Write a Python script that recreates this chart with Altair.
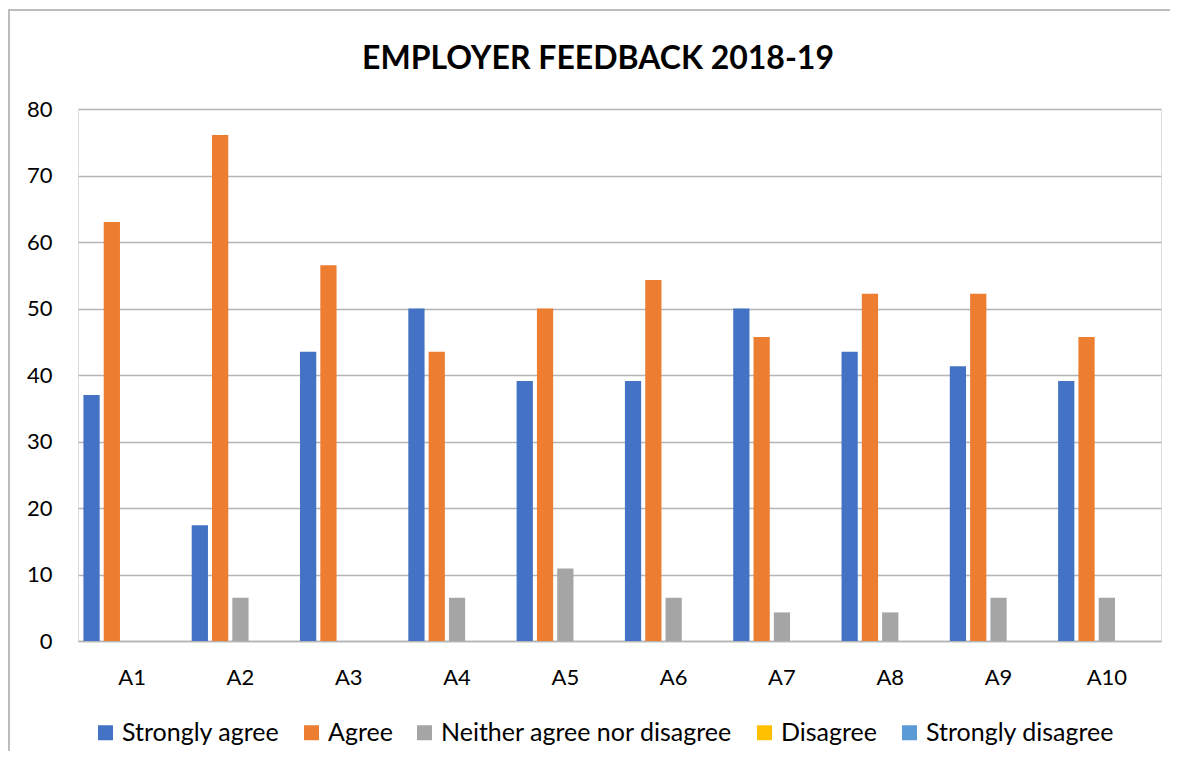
import altair as alt
import pandas as pd

categories = ["A1", "A2", "A3", "A4", "A5", "A6", "A7", "A8", "A9", "A10"]
series_names = ["Strongly agree", "Agree", "Neither agree nor disagree", "Disagree", "Strongly disagree"]
series_colors = ["#4472C4", "#ED7D31", "#A5A5A5", "#FFC000", "#5B9BD5"]

strongly_agree = [37.0, 17.4, 43.5, 50.0, 39.1, 39.1, 50.0, 43.5, 41.3, 39.1]
agree = [63.0, 76.1, 56.5, 43.5, 50.0, 54.3, 45.7, 52.2, 52.2, 45.7]
neither = [0, 6.5, 0, 6.5, 10.9, 6.5, 4.3, 4.3, 6.5, 6.5]
disagree = [0, 0, 0, 0, 0, 0, 0, 0, 0, 0]
strongly_disagree = [0, 0, 0, 0, 0, 0, 0, 0, 0, 0]

y_ticks = [0, 10, 20, 30, 40, 50, 60, 70, 80]
title_text = "EMPLOYER FEEDBACK 2018-19"

series_values = [strongly_agree, agree, neither, disagree, strongly_disagree]
rows = []
for name, vals in zip(series_names, series_values):
    for cat, v in zip(categories, vals):
        rows.append({"Question": cat, "Response": name, "Percent": v})
df = pd.DataFrame(rows)

FONT = "Lato"
GRID = "#b4b4b4"

bars = alt.Chart(df).mark_bar().encode(
    x=alt.X("Question:N", sort=categories, title=None,
            scale=alt.Scale(paddingInner=0.1, paddingOuter=0.05),
            axis=alt.Axis(labelAngle=0, labelFontSize=22, labelColor="#000000",
                          labelFont=FONT, ticks=False, tickSize=0, labelPadding=26,
                          domainColor=GRID, domainWidth=1.5, grid=False)),
    xOffset=alt.XOffset("Response:N", sort=series_names,
                        scale=alt.Scale(domain=series_names, paddingInner=0.2, paddingOuter=0)),
    y=alt.Y("Percent:Q", title=None,
            scale=alt.Scale(domain=[0, 80], nice=False),
            axis=alt.Axis(values=y_ticks, labelFontSize=22, labelColor="#000000",
                          labelFont=FONT, ticks=False, tickSize=0, labelPadding=26,
                          domain=False, gridColor=GRID, gridWidth=1.3)),
    color=alt.Color("Response:N", sort=series_names,
                    scale=alt.Scale(domain=series_names, range=series_colors),
                    legend=alt.Legend(title=None, orient="none", legendX=15, legendY=611,
                                      direction="horizontal", columns=5,
                                      symbolType="square", symbolSize=225,
                                      symbolStrokeWidth=0,
                                      labelFontSize=25, labelFont=FONT, labelColor="#000000",
                                      labelOffset=4, columnPadding=19, labelLimit=400)),
)

deco_df = pd.DataFrame({"k": [0]})
border = alt.Chart(deco_df).mark_rect(fillOpacity=0, stroke="#a6a6a6", strokeWidth=1.5).encode(
    x=alt.value(-69), x2=alt.value(1110), y=alt.value(-99), y2=alt.value(670)
)

title = alt.Chart(deco_df).mark_text(
    fontSize=32, fontWeight="bold", font=FONT, color="#000000",
    align="center", baseline="alphabetic"
).encode(x=alt.value(520), y=alt.value(-40), text=alt.value(title_text))

chart = alt.layer(border, bars, title).properties(
    width=1083,
    height=532,
    autosize=alt.AutoSizeParams(type="none"),
    padding={"left": 70, "top": 101, "right": 9, "bottom": 110},
).configure_view(stroke="transparent", strokeWidth=0).configure(background="white", font=FONT)

chart.save("out.html", embed_options={"renderer": "svg", "actions": False})
